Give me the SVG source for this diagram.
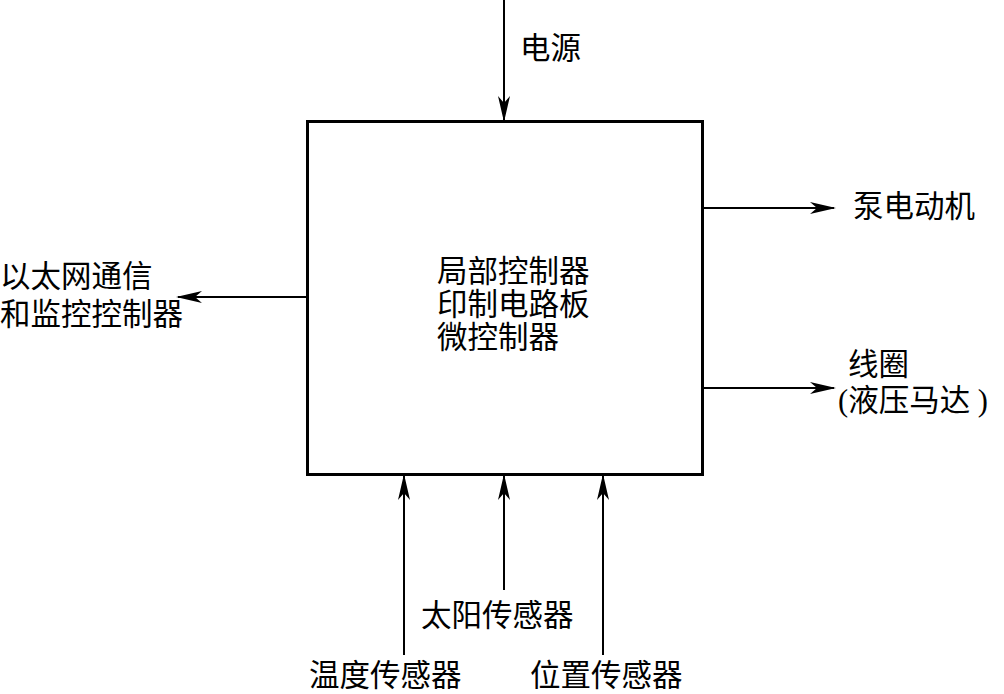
<svg xmlns="http://www.w3.org/2000/svg" width="1004" height="694" viewBox="0 0 1004 694">
<style>
text{font-family:"Liberation Serif","Noto Sans CJK SC",serif;font-size:30.5px;fill:#000}
.ln{stroke:#000;stroke-width:2;fill:none}
</style>
<defs>
<marker id="ah" markerWidth="26" markerHeight="12" refX="24" refY="6" orient="auto" markerUnits="userSpaceOnUse">
<path d="M0,0 L26,6 L0,12 L7,6 Z" fill="#000"/>
</marker>
</defs>
<rect width="1004" height="694" fill="#fff"/>
<g id="controller">
<rect x="307.5" y="121.5" width="395" height="353" fill="none" stroke="#000" stroke-width="3"/>
<text x="437" y="282">局部控制器</text>
<text x="437" y="315">印制电路板</text>
<text x="437" y="348">微控制器</text>
</g>
<g id="connectors">
<line class="ln" x1="504" y1="0" x2="504" y2="120" marker-end="url(#ah)"/>
<line class="ln" x1="704" y1="208" x2="834" y2="208" marker-end="url(#ah)"/>
<line class="ln" x1="704" y1="388" x2="834" y2="388" marker-end="url(#ah)"/>
<line class="ln" x1="306" y1="297" x2="178" y2="297" marker-end="url(#ah)"/>
<line class="ln" x1="404" y1="655" x2="404" y2="476" marker-end="url(#ah)"/>
<line class="ln" x1="504" y1="590" x2="504" y2="476" marker-end="url(#ah)"/>
<line class="ln" x1="603" y1="655" x2="603" y2="476" marker-end="url(#ah)"/>
</g>
<g id="power"><text x="520" y="59">电源</text></g>
<g id="pump"><text x="853" y="217">泵电动机</text></g>
<g id="coil"><text x="848" y="375">线圈</text><text x="838" y="411">(液压马达 )</text></g>
<g id="ethernet"><text x="0" y="287">以太网通信</text><text x="0" y="325">和监控控制器</text></g>
<g id="sun"><text x="421" y="626">太阳传感器</text></g>
<g id="temp"><text x="309" y="686">温度传感器</text></g>
<g id="pos"><text x="530" y="686">位置传感器</text></g>
</svg>
